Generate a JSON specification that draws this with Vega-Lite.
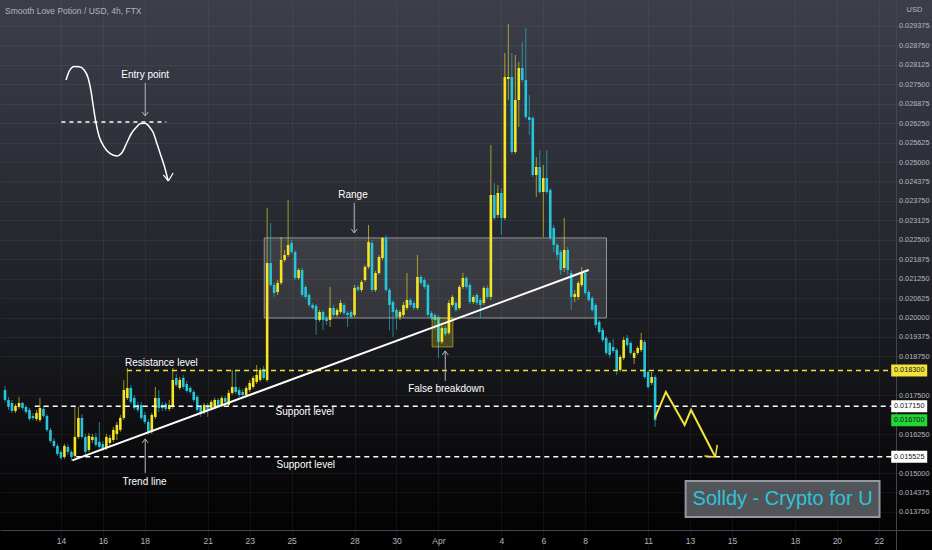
{
"$schema": "https://vega.github.io/schema/vega-lite/v6.json",
"width": 932, "height": 550, "padding": 0, "autosize": {"type": "none"},
"background": "#000000",
"view": {"stroke": null, "fill": {"gradient": "linear", "x1": 0, "y1": 0, "x2": 0, "y2": 1, "stops": [{"offset": 0, "color": "#3c3f4a"}, {"offset": 0.45, "color": "#25272e"}, {"offset": 0.8, "color": "#0d0d10"}, {"offset": 1, "color": "#000000"}]}},
"config": {"font": "Liberation Sans, Arial, sans-serif", "axisY": {"labelOverlap": false}},
"title": {"text": "Smooth Love Potion / USD, 4h, FTX", "anchor": "start", "offset": -15, "dx": 5, "fontSize": 8.5, "fontWeight": "normal", "color": "#b2b5be"},
"resolve": {"scale": {"color": "independent", "strokeWidth": "independent"}, "axis": {"x": "independent", "y": "independent"}},
"datasets": {
"candles": [
{"t":"2022-03-11T08:00Z","o":0.017673,"h":0.017801,"l":0.017287,"c":0.017351},
{"t":"2022-03-11T12:00Z","o":0.017351,"h":0.017448,"l":0.017030,"c":0.017126},
{"t":"2022-03-11T16:00Z","o":0.017255,"h":0.017351,"l":0.016933,"c":0.016998},
{"t":"2022-03-11T20:00Z","o":0.016998,"h":0.017223,"l":0.016933,"c":0.017158},
{"t":"2022-03-12T00:00Z","o":0.017126,"h":0.017448,"l":0.017062,"c":0.017255},
{"t":"2022-03-12T04:00Z","o":0.017255,"h":0.017287,"l":0.017030,"c":0.017094},
{"t":"2022-03-12T08:00Z","o":0.017126,"h":0.017190,"l":0.016901,"c":0.016965},
{"t":"2022-03-12T12:00Z","o":0.017030,"h":0.017094,"l":0.016676,"c":0.016740},
{"t":"2022-03-12T16:00Z","o":0.016837,"h":0.016933,"l":0.016708,"c":0.016773},
{"t":"2022-03-12T20:00Z","o":0.016740,"h":0.017030,"l":0.016676,"c":0.016933},
{"t":"2022-03-13T00:00Z","o":0.016708,"h":0.017415,"l":0.016644,"c":0.017094},
{"t":"2022-03-13T04:00Z","o":0.017062,"h":0.017158,"l":0.016773,"c":0.016837},
{"t":"2022-03-13T08:00Z","o":0.016837,"h":0.016901,"l":0.016323,"c":0.016387},
{"t":"2022-03-13T12:00Z","o":0.016387,"h":0.016451,"l":0.015969,"c":0.016033},
{"t":"2022-03-13T16:00Z","o":0.016033,"h":0.016130,"l":0.015808,"c":0.015873},
{"t":"2022-03-13T20:00Z","o":0.015873,"h":0.015937,"l":0.015551,"c":0.015615},
{"t":"2022-03-14T00:00Z","o":0.015680,"h":0.015744,"l":0.015423,"c":0.015487},
{"t":"2022-03-14T04:00Z","o":0.015519,"h":0.015937,"l":0.015455,"c":0.015873},
{"t":"2022-03-14T08:00Z","o":0.015840,"h":0.015937,"l":0.015583,"c":0.015680},
{"t":"2022-03-14T12:00Z","o":0.015680,"h":0.015744,"l":0.015390,"c":0.015519},
{"t":"2022-03-14T16:00Z","o":0.015551,"h":0.017126,"l":0.015487,"c":0.016162},
{"t":"2022-03-14T20:00Z","o":0.016162,"h":0.017126,"l":0.016098,"c":0.016773},
{"t":"2022-03-15T00:00Z","o":0.016773,"h":0.016901,"l":0.016098,"c":0.016162},
{"t":"2022-03-15T04:00Z","o":0.016162,"h":0.016258,"l":0.015583,"c":0.015680},
{"t":"2022-03-15T08:00Z","o":0.015744,"h":0.016290,"l":0.015680,"c":0.016194},
{"t":"2022-03-15T12:00Z","o":0.016065,"h":0.016258,"l":0.015969,"c":0.016162},
{"t":"2022-03-15T16:00Z","o":0.016162,"h":0.016290,"l":0.015840,"c":0.015905},
{"t":"2022-03-15T20:00Z","o":0.016001,"h":0.016644,"l":0.015776,"c":0.015840},
{"t":"2022-03-16T00:00Z","o":0.015937,"h":0.016033,"l":0.015712,"c":0.015776},
{"t":"2022-03-16T04:00Z","o":0.015808,"h":0.016258,"l":0.015744,"c":0.016162},
{"t":"2022-03-16T08:00Z","o":0.015969,"h":0.016226,"l":0.015873,"c":0.016130},
{"t":"2022-03-16T12:00Z","o":0.016065,"h":0.016483,"l":0.016001,"c":0.016387},
{"t":"2022-03-16T16:00Z","o":0.016258,"h":0.016644,"l":0.016065,"c":0.016548},
{"t":"2022-03-16T20:00Z","o":0.016387,"h":0.016869,"l":0.016323,"c":0.016773},
{"t":"2022-03-17T00:00Z","o":0.016773,"h":0.017994,"l":0.016708,"c":0.017673},
{"t":"2022-03-17T04:00Z","o":0.017415,"h":0.018380,"l":0.017351,"c":0.017737},
{"t":"2022-03-17T08:00Z","o":0.017737,"h":0.017833,"l":0.017223,"c":0.017287},
{"t":"2022-03-17T12:00Z","o":0.017415,"h":0.017512,"l":0.017030,"c":0.017094},
{"t":"2022-03-17T16:00Z","o":0.017190,"h":0.017287,"l":0.016965,"c":0.017030},
{"t":"2022-03-17T20:00Z","o":0.017190,"h":0.017287,"l":0.016708,"c":0.016773},
{"t":"2022-03-18T00:00Z","o":0.016869,"h":0.016965,"l":0.016580,"c":0.016644},
{"t":"2022-03-18T04:00Z","o":0.016644,"h":0.016740,"l":0.016226,"c":0.016290},
{"t":"2022-03-18T08:00Z","o":0.016323,"h":0.016933,"l":0.016258,"c":0.016869},
{"t":"2022-03-18T12:00Z","o":0.016805,"h":0.017769,"l":0.016740,"c":0.017415},
{"t":"2022-03-18T16:00Z","o":0.017415,"h":0.017673,"l":0.016965,"c":0.017094},
{"t":"2022-03-18T20:00Z","o":0.017190,"h":0.017287,"l":0.016998,"c":0.017094},
{"t":"2022-03-19T00:00Z","o":0.017223,"h":0.017287,"l":0.016998,"c":0.017062},
{"t":"2022-03-19T04:00Z","o":0.017062,"h":0.017351,"l":0.016998,"c":0.017190},
{"t":"2022-03-19T08:00Z","o":0.017126,"h":0.018380,"l":0.017062,"c":0.017994},
{"t":"2022-03-19T12:00Z","o":0.018058,"h":0.018187,"l":0.017769,"c":0.017833},
{"t":"2022-03-19T16:00Z","o":0.017737,"h":0.018090,"l":0.017673,"c":0.017994},
{"t":"2022-03-19T20:00Z","o":0.018058,"h":0.018155,"l":0.017705,"c":0.017769},
{"t":"2022-03-20T00:00Z","o":0.017865,"h":0.017962,"l":0.017576,"c":0.017640},
{"t":"2022-03-20T04:00Z","o":0.017737,"h":0.017801,"l":0.017544,"c":0.017608},
{"t":"2022-03-20T08:00Z","o":0.017608,"h":0.017673,"l":0.017287,"c":0.017351},
{"t":"2022-03-20T12:00Z","o":0.017448,"h":0.017512,"l":0.016965,"c":0.017030},
{"t":"2022-03-20T16:00Z","o":0.017126,"h":0.017190,"l":0.016805,"c":0.016933},
{"t":"2022-03-20T20:00Z","o":0.016965,"h":0.017255,"l":0.016901,"c":0.017190},
{"t":"2022-03-21T00:00Z","o":0.017190,"h":0.017255,"l":0.016805,"c":0.017030},
{"t":"2022-03-21T04:00Z","o":0.017094,"h":0.017351,"l":0.017030,"c":0.017287},
{"t":"2022-03-21T08:00Z","o":0.017126,"h":0.017415,"l":0.017062,"c":0.017351},
{"t":"2022-03-21T12:00Z","o":0.017351,"h":0.017415,"l":0.017126,"c":0.017190},
{"t":"2022-03-21T16:00Z","o":0.017190,"h":0.017480,"l":0.017126,"c":0.017415},
{"t":"2022-03-21T20:00Z","o":0.017415,"h":0.017480,"l":0.017223,"c":0.017287},
{"t":"2022-03-22T00:00Z","o":0.017190,"h":0.017673,"l":0.017126,"c":0.017576},
{"t":"2022-03-22T04:00Z","o":0.017576,"h":0.018315,"l":0.017512,"c":0.017769},
{"t":"2022-03-22T08:00Z","o":0.017769,"h":0.018315,"l":0.017544,"c":0.017608},
{"t":"2022-03-22T12:00Z","o":0.017673,"h":0.017769,"l":0.017448,"c":0.017512},
{"t":"2022-03-22T16:00Z","o":0.017608,"h":0.017705,"l":0.017415,"c":0.017512},
{"t":"2022-03-22T20:00Z","o":0.017512,"h":0.017801,"l":0.017448,"c":0.017737},
{"t":"2022-03-23T00:00Z","o":0.017673,"h":0.017994,"l":0.017608,"c":0.017898},
{"t":"2022-03-23T04:00Z","o":0.017769,"h":0.018123,"l":0.017705,"c":0.018058},
{"t":"2022-03-23T08:00Z","o":0.017930,"h":0.018476,"l":0.017865,"c":0.018155},
{"t":"2022-03-23T12:00Z","o":0.017994,"h":0.018380,"l":0.017930,"c":0.018315},
{"t":"2022-03-23T16:00Z","o":0.018348,"h":0.018444,"l":0.017994,"c":0.018058},
{"t":"2022-03-23T20:00Z","o":0.017994,"h":0.023524,"l":0.017930,"c":0.021756},
{"t":"2022-03-24T00:00Z","o":0.021756,"h":0.023042,"l":0.020984,"c":0.021048},
{"t":"2022-03-24T04:00Z","o":0.021048,"h":0.021145,"l":0.020662,"c":0.020791},
{"t":"2022-03-24T08:00Z","o":0.020823,"h":0.021209,"l":0.020727,"c":0.021113},
{"t":"2022-03-24T12:00Z","o":0.021113,"h":0.022592,"l":0.021048,"c":0.021852},
{"t":"2022-03-24T16:00Z","o":0.021852,"h":0.022174,"l":0.021788,"c":0.022013},
{"t":"2022-03-24T20:00Z","o":0.022013,"h":0.023781,"l":0.021949,"c":0.022334},
{"t":"2022-03-25T00:00Z","o":0.022399,"h":0.022495,"l":0.022045,"c":0.022109},
{"t":"2022-03-25T04:00Z","o":0.022109,"h":0.022174,"l":0.021209,"c":0.021273},
{"t":"2022-03-25T08:00Z","o":0.021273,"h":0.021595,"l":0.021209,"c":0.021531},
{"t":"2022-03-25T12:00Z","o":0.021531,"h":0.021595,"l":0.020662,"c":0.020727},
{"t":"2022-03-25T16:00Z","o":0.020984,"h":0.021048,"l":0.020598,"c":0.020662},
{"t":"2022-03-25T20:00Z","o":0.020727,"h":0.020791,"l":0.020341,"c":0.020405},
{"t":"2022-03-26T00:00Z","o":0.020405,"h":0.020470,"l":0.020245,"c":0.020309},
{"t":"2022-03-26T04:00Z","o":0.020373,"h":0.020437,"l":0.019441,"c":0.019923},
{"t":"2022-03-26T08:00Z","o":0.019923,"h":0.020245,"l":0.019859,"c":0.020180},
{"t":"2022-03-26T12:00Z","o":0.020180,"h":0.020245,"l":0.019602,"c":0.019923},
{"t":"2022-03-26T16:00Z","o":0.019987,"h":0.020052,"l":0.019762,"c":0.019891},
{"t":"2022-03-26T20:00Z","o":0.019923,"h":0.020984,"l":0.019698,"c":0.020309},
{"t":"2022-03-27T00:00Z","o":0.020309,"h":0.020405,"l":0.020020,"c":0.020084},
{"t":"2022-03-27T04:00Z","o":0.020084,"h":0.020309,"l":0.020020,"c":0.020245},
{"t":"2022-03-27T08:00Z","o":0.020180,"h":0.020566,"l":0.020116,"c":0.020470},
{"t":"2022-03-27T12:00Z","o":0.020405,"h":0.020470,"l":0.020084,"c":0.020148},
{"t":"2022-03-27T16:00Z","o":0.020148,"h":0.020212,"l":0.019698,"c":0.020084},
{"t":"2022-03-27T20:00Z","o":0.020180,"h":0.020245,"l":0.019955,"c":0.020020},
{"t":"2022-03-28T00:00Z","o":0.020084,"h":0.021048,"l":0.020020,"c":0.020952},
{"t":"2022-03-28T04:00Z","o":0.020984,"h":0.021048,"l":0.020823,"c":0.020888},
{"t":"2022-03-28T08:00Z","o":0.020888,"h":0.021209,"l":0.020823,"c":0.021145},
{"t":"2022-03-28T12:00Z","o":0.021209,"h":0.021691,"l":0.021145,"c":0.021627},
{"t":"2022-03-28T16:00Z","o":0.021627,"h":0.022977,"l":0.021563,"c":0.022431},
{"t":"2022-03-28T20:00Z","o":0.022399,"h":0.022495,"l":0.020823,"c":0.020888},
{"t":"2022-03-29T00:00Z","o":0.020888,"h":0.021498,"l":0.020823,"c":0.021434},
{"t":"2022-03-29T04:00Z","o":0.021434,"h":0.022013,"l":0.021370,"c":0.021949},
{"t":"2022-03-29T08:00Z","o":0.021916,"h":0.022592,"l":0.021852,"c":0.022560},
{"t":"2022-03-29T12:00Z","o":0.022560,"h":0.022656,"l":0.020823,"c":0.020888},
{"t":"2022-03-29T16:00Z","o":0.020888,"h":0.020952,"l":0.019602,"c":0.020405},
{"t":"2022-03-29T20:00Z","o":0.020502,"h":0.020566,"l":0.019377,"c":0.020180},
{"t":"2022-03-30T00:00Z","o":0.020245,"h":0.020309,"l":0.019602,"c":0.020020},
{"t":"2022-03-30T04:00Z","o":0.020020,"h":0.020245,"l":0.019923,"c":0.020180},
{"t":"2022-03-30T08:00Z","o":0.020084,"h":0.020502,"l":0.020020,"c":0.020405},
{"t":"2022-03-30T12:00Z","o":0.020309,"h":0.021434,"l":0.020245,"c":0.020566},
{"t":"2022-03-30T16:00Z","o":0.020566,"h":0.020630,"l":0.020341,"c":0.020405},
{"t":"2022-03-30T20:00Z","o":0.020470,"h":0.020534,"l":0.020245,"c":0.020309},
{"t":"2022-03-31T00:00Z","o":0.020309,"h":0.022013,"l":0.020245,"c":0.021306},
{"t":"2022-03-31T04:00Z","o":0.021306,"h":0.021370,"l":0.021048,"c":0.021113},
{"t":"2022-03-31T08:00Z","o":0.021209,"h":0.021273,"l":0.020920,"c":0.020984},
{"t":"2022-03-31T12:00Z","o":0.021048,"h":0.021113,"l":0.020020,"c":0.020084},
{"t":"2022-03-31T16:00Z","o":0.020148,"h":0.020212,"l":0.019923,"c":0.019987},
{"t":"2022-03-31T20:00Z","o":0.020084,"h":0.020148,"l":0.019602,"c":0.019923},
{"t":"2022-04-01T00:00Z","o":0.020020,"h":0.020084,"l":0.018702,"c":0.019216},
{"t":"2022-04-01T04:00Z","o":0.019216,"h":0.019730,"l":0.019152,"c":0.019666},
{"t":"2022-04-01T08:00Z","o":0.019666,"h":0.019730,"l":0.019409,"c":0.019473},
{"t":"2022-04-01T12:00Z","o":0.019505,"h":0.020566,"l":0.019441,"c":0.020470},
{"t":"2022-04-01T16:00Z","o":0.020405,"h":0.020727,"l":0.020341,"c":0.020662},
{"t":"2022-04-01T20:00Z","o":0.020470,"h":0.020534,"l":0.020180,"c":0.020245},
{"t":"2022-04-02T00:00Z","o":0.020309,"h":0.021048,"l":0.020245,"c":0.020984},
{"t":"2022-04-02T04:00Z","o":0.020984,"h":0.021434,"l":0.020920,"c":0.021273},
{"t":"2022-04-02T08:00Z","o":0.021273,"h":0.021338,"l":0.020920,"c":0.020984},
{"t":"2022-04-02T12:00Z","o":0.021048,"h":0.021113,"l":0.020437,"c":0.020502},
{"t":"2022-04-02T16:00Z","o":0.020502,"h":0.020727,"l":0.020437,"c":0.020662},
{"t":"2022-04-02T20:00Z","o":0.020727,"h":0.020791,"l":0.020405,"c":0.020470},
{"t":"2022-04-03T00:00Z","o":0.020566,"h":0.020630,"l":0.019987,"c":0.020405},
{"t":"2022-04-03T04:00Z","o":0.020470,"h":0.021016,"l":0.020405,"c":0.020952},
{"t":"2022-04-03T08:00Z","o":0.020952,"h":0.021048,"l":0.020598,"c":0.020662},
{"t":"2022-04-03T12:00Z","o":0.020662,"h":0.025549,"l":0.020566,"c":0.023942},
{"t":"2022-04-03T16:00Z","o":0.023942,"h":0.024328,"l":0.023138,"c":0.023202},
{"t":"2022-04-03T20:00Z","o":0.023299,"h":0.024263,"l":0.023202,"c":0.024006},
{"t":"2022-04-04T00:00Z","o":0.024006,"h":0.024167,"l":0.022656,"c":0.023202},
{"t":"2022-04-04T04:00Z","o":0.023202,"h":0.028507,"l":0.023138,"c":0.027735},
{"t":"2022-04-04T08:00Z","o":0.027671,"h":0.029439,"l":0.026996,"c":0.027735},
{"t":"2022-04-04T12:00Z","o":0.027735,"h":0.028507,"l":0.025260,"c":0.025324},
{"t":"2022-04-04T16:00Z","o":0.025324,"h":0.028443,"l":0.025260,"c":0.026996},
{"t":"2022-04-04T20:00Z","o":0.026996,"h":0.028218,"l":0.026128,"c":0.028025},
{"t":"2022-04-05T00:00Z","o":0.028025,"h":0.028861,"l":0.027575,"c":0.027639},
{"t":"2022-04-05T04:00Z","o":0.027639,"h":0.029311,"l":0.026385,"c":0.026450},
{"t":"2022-04-05T08:00Z","o":0.026450,"h":0.027157,"l":0.025871,"c":0.026353},
{"t":"2022-04-05T12:00Z","o":0.026417,"h":0.026482,"l":0.024521,"c":0.024585},
{"t":"2022-04-05T16:00Z","o":0.024585,"h":0.025164,"l":0.023878,"c":0.024842},
{"t":"2022-04-05T20:00Z","o":0.024842,"h":0.025389,"l":0.023974,"c":0.024038},
{"t":"2022-04-06T00:00Z","o":0.024038,"h":0.024906,"l":0.022592,"c":0.024488},
{"t":"2022-04-06T04:00Z","o":0.024488,"h":0.025389,"l":0.023974,"c":0.024038},
{"t":"2022-04-06T08:00Z","o":0.024103,"h":0.024167,"l":0.022495,"c":0.022560},
{"t":"2022-04-06T12:00Z","o":0.022881,"h":0.022977,"l":0.022109,"c":0.022334},
{"t":"2022-04-06T16:00Z","o":0.022334,"h":0.022399,"l":0.021852,"c":0.022013},
{"t":"2022-04-06T20:00Z","o":0.022109,"h":0.022174,"l":0.021370,"c":0.021531},
{"t":"2022-04-07T00:00Z","o":0.021595,"h":0.023202,"l":0.021466,"c":0.022174},
{"t":"2022-04-07T04:00Z","o":0.022174,"h":0.022270,"l":0.021370,"c":0.021531},
{"t":"2022-04-07T08:00Z","o":0.021434,"h":0.021531,"l":0.020245,"c":0.020662},
{"t":"2022-04-07T12:00Z","o":0.020662,"h":0.020888,"l":0.020502,"c":0.020759},
{"t":"2022-04-07T16:00Z","o":0.020662,"h":0.021177,"l":0.020566,"c":0.021113},
{"t":"2022-04-07T20:00Z","o":0.021048,"h":0.021627,"l":0.020984,"c":0.021434},
{"t":"2022-04-08T00:00Z","o":0.021434,"h":0.021498,"l":0.020727,"c":0.020791},
{"t":"2022-04-08T04:00Z","o":0.020823,"h":0.020888,"l":0.020502,"c":0.020566},
{"t":"2022-04-08T08:00Z","o":0.020630,"h":0.020695,"l":0.020180,"c":0.020245},
{"t":"2022-04-08T12:00Z","o":0.020405,"h":0.020470,"l":0.019666,"c":0.019762},
{"t":"2022-04-08T16:00Z","o":0.019859,"h":0.019923,"l":0.019473,"c":0.019537},
{"t":"2022-04-08T20:00Z","o":0.019602,"h":0.019666,"l":0.019216,"c":0.019280},
{"t":"2022-04-09T00:00Z","o":0.019344,"h":0.019409,"l":0.018798,"c":0.018862},
{"t":"2022-04-09T04:00Z","o":0.019184,"h":0.019248,"l":0.018702,"c":0.018798},
{"t":"2022-04-09T08:00Z","o":0.019055,"h":0.019312,"l":0.018862,"c":0.018927},
{"t":"2022-04-09T12:00Z","o":0.018959,"h":0.019023,"l":0.018155,"c":0.018315},
{"t":"2022-04-09T16:00Z","o":0.018315,"h":0.018798,"l":0.018251,"c":0.018734},
{"t":"2022-04-09T20:00Z","o":0.018702,"h":0.019377,"l":0.018637,"c":0.019280},
{"t":"2022-04-10T00:00Z","o":0.019344,"h":0.019441,"l":0.019055,"c":0.019119},
{"t":"2022-04-10T04:00Z","o":0.019184,"h":0.019248,"l":0.018798,"c":0.018862},
{"t":"2022-04-10T08:00Z","o":0.018702,"h":0.018927,"l":0.018509,"c":0.018862},
{"t":"2022-04-10T12:00Z","o":0.018862,"h":0.019087,"l":0.018798,"c":0.019023},
{"t":"2022-04-10T16:00Z","o":0.018959,"h":0.019505,"l":0.018894,"c":0.019280},
{"t":"2022-04-10T20:00Z","o":0.019216,"h":0.019280,"l":0.018026,"c":0.018090},
{"t":"2022-04-11T00:00Z","o":0.018251,"h":0.018315,"l":0.017705,"c":0.017769},
{"t":"2022-04-11T04:00Z","o":0.017898,"h":0.018251,"l":0.017833,"c":0.018090},
{"t":"2022-04-11T08:00Z","o":0.018090,"h":0.018155,"l":0.016483,"c":0.016700}
]
},
"layer": [
{
"data": {"values": [{"t1": "2022-03-23T16:39Z", "t2": "2022-04-09T00:21Z", "p1": 0.02256, "p2": 0.019987}]},
"mark": {"type": "rect", "fill": "#ffffff", "fillOpacity": 0.11, "stroke": "#a3a6ae", "strokeWidth": 1, "strokeOpacity": 0.85},
"encoding": {
"x": {"field": "t1", "type": "temporal", "scale": {"type": "utc", "domain": [{"year": 2022, "month": 3, "date": 11, "hours": 8, "minutes": 0, "utc": true}, {"year": 2022, "month": 4, "date": 24, "hours": 7, "minutes": 8, "utc": true}]},
"axis": {"orient": "bottom", "offset": -20, "title": null, "ticks": false, "grid": true, "gridColor": "#ffffff", "gridOpacity": 0.05, "domainColor": "#434651", "labelColor": "#b2b5be", "labelFontSize": 8.5, "labelPadding": 6, "labelOverlap": false,
"values": [{"year":2022,"month":3,"date":14,"utc":true},{"year":2022,"month":3,"date":16,"utc":true},{"year":2022,"month":3,"date":18,"utc":true},{"year":2022,"month":3,"date":21,"utc":true},{"year":2022,"month":3,"date":23,"utc":true},{"year":2022,"month":3,"date":25,"utc":true},{"year":2022,"month":3,"date":28,"utc":true},{"year":2022,"month":3,"date":30,"utc":true},{"year":2022,"month":4,"date":1,"utc":true},{"year":2022,"month":4,"date":4,"utc":true},{"year":2022,"month":4,"date":6,"utc":true},{"year":2022,"month":4,"date":8,"utc":true},{"year":2022,"month":4,"date":11,"utc":true},{"year":2022,"month":4,"date":13,"utc":true},{"year":2022,"month":4,"date":15,"utc":true},{"year":2022,"month":4,"date":18,"utc":true},{"year":2022,"month":4,"date":20,"utc":true},{"year":2022,"month":4,"date":22,"utc":true}],
"labelExpr": "utcdate(datum.value) == 1 ? 'Apr' : '' + utcdate(datum.value)"}},
"x2": {"field": "t2"},
"y": {"field": "p1", "type": "quantitative", "scale": {"domain": [0.012526, 0.030211], "nice": false, "zero": false},
"axis": {"orient": "right", "offset": -36, "title": "USD", "titleAngle": 0, "titleX": 18, "titleY": 9, "titleAlign": "center", "titleBaseline": "middle", "titleFontSize": 7.5, "titleFontWeight": "normal", "titleColor": "#b2b5be", "ticks": false, "grid": true, "gridColor": "#ffffff", "gridOpacity": 0.05, "domainColor": "#434651", "labelColor": "#b2b5be", "labelFontSize": 7.3, "labelPadding": 2.5, "labelOverlap": false, "format": ".6f",
"values": [0.01375, 0.014375, 0.015, 0.01625, 0.0175, 0.01875, 0.019375, 0.02, 0.020625, 0.02125, 0.021875, 0.0225, 0.023125, 0.02375, 0.024375, 0.025, 0.025625, 0.02625, 0.026875, 0.0275, 0.028125, 0.02875, 0.029375]}},
"y2": {"field": "p2"}
}
},
{
"data": {"name": "candles"},
"mark": {"type": "rule", "strokeWidth": 1, "opacity": 0.6},
"encoding": {
"x": {"field": "t", "type": "temporal", "axis": null},
"y": {"field": "l", "type": "quantitative", "axis": null},
"y2": {"field": "h"},
"color": {"condition": {"test": "datum.c >= datum.o", "value": "#f5e625"}, "value": "#26c6da"}
}
},
{
"data": {"name": "candles"},
"mark": {"type": "bar", "width": 2.6},
"encoding": {
"x": {"field": "t", "type": "temporal", "axis": null},
"y": {"field": "o", "type": "quantitative", "axis": null},
"y2": {"field": "c"},
"color": {"condition": {"test": "datum.c >= datum.o", "value": "#f5e625"}, "value": "#26c6da"}
}
},
{
"data": {"values": [{"t1": "2022-03-31T16:46Z", "t2": "2022-04-01T16:32Z", "p1": 0.019987, "p2": 0.019055}]},
"mark": {"type": "rect", "fill": "#f5e625", "fillOpacity": 0.22, "stroke": "#f5e625", "strokeOpacity": 0.5, "strokeWidth": 1},
"encoding": {"x": {"field": "t1", "type": "temporal", "axis": null}, "x2": {"field": "t2"}, "y": {"field": "p1", "type": "quantitative", "axis": null}, "y2": {"field": "p2"}}
},
{
"data": {"values": [
{"level": "Resistance level", "t1": "2022-03-17T03:37Z", "t2": "2022-04-22T14:24Z", "p": 0.0183},
{"level": "Support level 1", "t1": "2022-03-12T18:00Z", "t2": "2022-04-22T14:24Z", "p": 0.01715},
{"level": "Support level 2", "t1": "2022-03-14T17:33Z", "t2": "2022-04-22T14:24Z", "p": 0.015525}]},
"mark": {"type": "rule", "strokeWidth": 1.5, "strokeDash": [5, 4]},
"encoding": {"x": {"field": "t1", "type": "temporal", "axis": null}, "x2": {"field": "t2"}, "y": {"field": "p", "type": "quantitative", "axis": null},
"color": {"field": "level", "type": "nominal", "legend": null, "scale": {"domain": ["Resistance level", "Support level 1", "Support level 2"], "range": ["#f2e23a", "#ffffff", "#ffffff"]}}}
},
{
"data": {"values": [{"t1": "2022-03-14T13:01Z", "t2": "2022-04-08T03:59Z", "p1": 0.015406, "p2": 0.021531}]},
"mark": {"type": "rule", "strokeWidth": 2, "color": "#ffffff"},
"encoding": {"x": {"field": "t1", "type": "temporal", "axis": null}, "x2": {"field": "t2"}, "y": {"field": "p1", "type": "quantitative", "axis": null}, "y2": {"field": "p2"}}
},
{
"data": {"values": [{"t1": "2022-03-14T00:34Z", "t2": "2022-03-19T00:34Z", "p": 0.026289}]},
"mark": {"type": "rule", "strokeWidth": 1.5, "strokeDash": [4, 4], "color": "#ffffff"},
"encoding": {"x": {"field": "t1", "type": "temporal", "axis": null}, "x2": {"field": "t2"}, "y": {"field": "p", "type": "quantitative", "axis": null}}
},
{
"data": {"values": [
{"i": 1, "t": "2022-03-14T05:53Z", "p": 0.027639},
{"i": 2, "t": "2022-03-14T09:37Z", "p": 0.027928},
{"i": 3, "t": "2022-03-14T15:17Z", "p": 0.028073},
{"i": 4, "t": "2022-03-14T20:57Z", "p": 0.028067},
{"i": 5, "t": "2022-03-15T02:36Z", "p": 0.027961},
{"i": 6, "t": "2022-03-15T07:08Z", "p": 0.027703},
{"i": 7, "t": "2022-03-15T10:11Z", "p": 0.027318},
{"i": 8, "t": "2022-03-15T12:48Z", "p": 0.026835},
{"i": 9, "t": "2022-03-15T15:51Z", "p": 0.026298},
{"i": 10, "t": "2022-03-15T19:35Z", "p": 0.025839},
{"i": 11, "t": "2022-03-16T01:15Z", "p": 0.025495},
{"i": 12, "t": "2022-03-16T08:02Z", "p": 0.025276},
{"i": 13, "t": "2022-03-16T15:58Z", "p": 0.025196},
{"i": 14, "t": "2022-03-16T21:37Z", "p": 0.025292},
{"i": 15, "t": "2022-03-17T03:17Z", "p": 0.025614},
{"i": 16, "t": "2022-03-17T08:57Z", "p": 0.025935},
{"i": 17, "t": "2022-03-17T14:37Z", "p": 0.026128},
{"i": 18, "t": "2022-03-17T19:08Z", "p": 0.02624},
{"i": 19, "t": "2022-03-18T00:27Z", "p": 0.026247},
{"i": 20, "t": "2022-03-18T05:19Z", "p": 0.026128},
{"i": 21, "t": "2022-03-18T09:51Z", "p": 0.025935},
{"i": 22, "t": "2022-03-18T13:15Z", "p": 0.025646},
{"i": 23, "t": "2022-03-18T17:26Z", "p": 0.025292},
{"i": 24, "t": "2022-03-18T22:18Z", "p": 0.024874},
{"i": 25, "t": "2022-03-19T02:50Z", "p": 0.024392}]},
"mark": {"type": "line", "strokeWidth": 1.5, "color": "#ffffff", "interpolate": "monotone"},
"encoding": {"x": {"field": "t", "type": "temporal", "axis": null}, "y": {"field": "p", "type": "quantitative", "axis": null}, "order": {"field": "i", "type": "quantitative"}}
},
{
"data": {"values": [
{"i": 1, "t": "2022-04-11T07:50Z", "p": 0.016773},
{"i": 2, "t": "2022-04-11T20:17Z", "p": 0.017608},
{"i": 3, "t": "2022-04-12T17:47Z", "p": 0.016548},
{"i": 4, "t": "2022-04-13T01:09Z", "p": 0.01703},
{"i": 5, "t": "2022-04-14T04:53Z", "p": 0.015519}]},
"mark": {"type": "line", "strokeWidth": 2, "color": "#f2e23a"},
"encoding": {"x": {"field": "t", "type": "temporal", "axis": null}, "y": {"field": "p", "type": "quantitative", "axis": null}, "order": {"field": "i", "type": "quantitative"}}
},
{
"data": {"values": [
{"kind": "label arrow", "t1": "2022-03-18T00:27Z", "p1": 0.027543, "t2": "2022-03-18T00:27Z", "p2": 0.026482},
{"kind": "label arrow", "t1": "2022-03-17T21:04Z", "p1": 0.02661, "t2": "2022-03-18T00:27Z", "p2": 0.026482},
{"kind": "label arrow", "t1": "2022-03-18T03:51Z", "p1": 0.02661, "t2": "2022-03-18T00:27Z", "p2": 0.026482},
{"kind": "label arrow", "t1": "2022-03-27T23:40Z", "p1": 0.023685, "t2": "2022-03-27T23:40Z", "p2": 0.02272},
{"kind": "label arrow", "t1": "2022-03-27T20:16Z", "p1": 0.022849, "t2": "2022-03-27T23:40Z", "p2": 0.02272},
{"kind": "label arrow", "t1": "2022-03-28T03:04Z", "p1": 0.022849, "t2": "2022-03-27T23:40Z", "p2": 0.02272},
{"kind": "label arrow", "t1": "2022-03-18T00:27Z", "p1": 0.015004, "t2": "2022-03-18T00:27Z", "p2": 0.016098},
{"kind": "label arrow", "t1": "2022-03-17T21:04Z", "p1": 0.015969, "t2": "2022-03-18T00:27Z", "p2": 0.016098},
{"kind": "label arrow", "t1": "2022-03-18T03:51Z", "p1": 0.015969, "t2": "2022-03-18T00:27Z", "p2": 0.016098},
{"kind": "label arrow", "t1": "2022-04-01T07:49Z", "p1": 0.017962, "t2": "2022-04-01T07:49Z", "p2": 0.018927},
{"kind": "label arrow", "t1": "2022-04-01T04:25Z", "p1": 0.018798, "t2": "2022-04-01T07:49Z", "p2": 0.018927},
{"kind": "label arrow", "t1": "2022-04-01T11:13Z", "p1": 0.018798, "t2": "2022-04-01T07:49Z", "p2": 0.018927},
{"kind": "curve arrow", "t1": "2022-03-18T21:10Z", "p1": 0.024585, "t2": "2022-03-19T02:50Z", "p2": 0.024392},
{"kind": "curve arrow", "t1": "2022-03-19T08:29Z", "p1": 0.024649, "t2": "2022-03-19T02:50Z", "p2": 0.024392},
{"kind": "forecast arrow", "t1": "2022-04-13T16:26Z", "p1": 0.015551, "t2": "2022-04-14T04:53Z", "p2": 0.015519},
{"kind": "forecast arrow", "t1": "2022-04-14T07:09Z", "p1": 0.015905, "t2": "2022-04-14T04:53Z", "p2": 0.015519}]},
"mark": {"type": "rule"},
"encoding": {"x": {"field": "t1", "type": "temporal", "axis": null}, "x2": {"field": "t2"}, "y": {"field": "p1", "type": "quantitative", "axis": null}, "y2": {"field": "p2"},
"color": {"field": "kind", "type": "nominal", "legend": null, "scale": {"domain": ["label arrow", "curve arrow", "forecast arrow"], "range": ["#b2b5be", "#ffffff", "#f2e23a"]}},
"strokeWidth": {"field": "kind", "type": "nominal", "legend": null, "scale": {"domain": ["label arrow", "curve arrow", "forecast arrow"], "range": [1, 1.5, 2]}}}
},
{
"data": {"values": [
{"t": "2022-03-18T00:27Z", "p": 0.0278, "label": "Entry point"},
{"t": "2022-03-27T22:12Z", "p": 0.023942, "label": "Range"},
{"t": "2022-03-18T18:55Z", "p": 0.018541, "label": "Resistance level"},
{"t": "2022-03-25T15:04Z", "p": 0.016965, "label": "Support level"},
{"t": "2022-03-25T16:11Z", "p": 0.015262, "label": "Support level"},
{"t": "2022-03-17T23:40Z", "p": 0.014715, "label": "Trend line"},
{"t": "2022-04-01T08:57Z", "p": 0.017705, "label": "False breakdown"}]},
"mark": {"type": "text", "color": "#ffffff", "fontSize": 10, "align": "center", "baseline": "middle"},
"encoding": {"x": {"field": "t", "type": "temporal", "axis": null}, "y": {"field": "p", "type": "quantitative", "axis": null}, "text": {"field": "label"}}
},
{
"data": {"values": [
{"tag": "Resistance level", "p": 0.0183, "label": "0.018300"},
{"tag": "Support level 1", "p": 0.01715, "label": "0.017150"},
{"tag": "Last price", "p": 0.0167, "label": "0.016700"},
{"tag": "Support level 2", "p": 0.015525, "label": "0.015525"}]},
"resolve": {"scale": {"color": "independent"}, "axis": {"x": "independent", "y": "independent"}},
"layer": [
{"mark": {"type": "rect", "width": 36, "height": 12},
"encoding": {"x": {"datum": {"year": 2022, "month": 4, "date": 23, "hours": 10, "minutes": 47, "utc": true}, "type": "temporal", "axis": null}, "y": {"field": "p", "type": "quantitative", "axis": null},
"color": {"field": "tag", "type": "nominal", "legend": null, "scale": {"domain": ["Resistance level", "Support level 1", "Last price", "Support level 2"], "range": ["#f2e23a", "#ffffff", "#22d633", "#ffffff"]}}}},
{"mark": {"type": "text", "color": "#131722", "fontSize": 7.3, "align": "center", "baseline": "middle"},
"encoding": {"x": {"datum": {"year": 2022, "month": 4, "date": 23, "hours": 10, "minutes": 47, "utc": true}, "type": "temporal", "axis": null}, "y": {"field": "p", "type": "quantitative", "axis": null}, "text": {"field": "label"}}}
]
},
{
"data": {"values": [{"t1": "2022-04-12T18:55Z", "t2": "2022-04-22T00:49Z", "p1": 0.014747, "p2": 0.01359}]},
"mark": {"type": "rect", "fill": "#585b61", "fillOpacity": 0.92, "stroke": "#9598a1", "strokeWidth": 2},
"encoding": {"x": {"field": "t1", "type": "temporal", "axis": null}, "x2": {"field": "t2"}, "y": {"field": "p1", "type": "quantitative", "axis": null}, "y2": {"field": "p2"}}
},
{
"data": {"values": [{"t": "2022-04-17T09:52Z", "p": 0.014168, "label": "Solldy - Crypto for U"}]},
"mark": {"type": "text", "color": "#2ec4dc", "fontSize": 20, "align": "center", "baseline": "middle"},
"encoding": {"x": {"field": "t", "type": "temporal", "axis": null}, "y": {"field": "p", "type": "quantitative", "axis": null}, "text": {"field": "label"}}
}
]
}
